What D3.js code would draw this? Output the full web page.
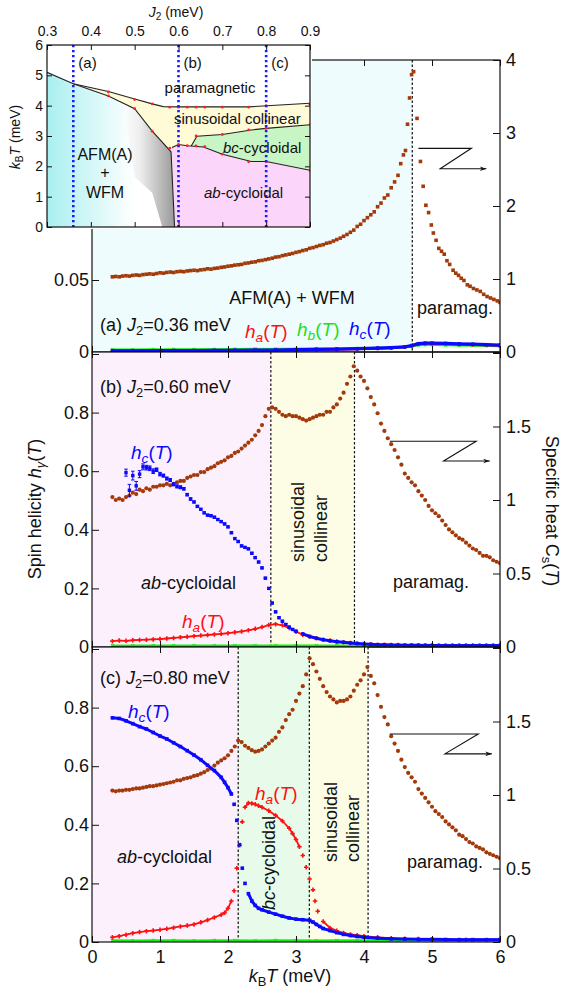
<!DOCTYPE html>
<html><head><meta charset="utf-8">
<script src="https://cdn.jsdelivr.net/npm/d3@7"></script>
<style>body{margin:0;background:#fff}</style>
</head><body><svg id="c" width="566" height="994"></svg>
<script>
// ---------------- DATA ----------------
const xTicks = [0,1,2,3,4,5,6];
// Panel (a) J2=0.36 : specific heat (right axis)
const csA_low = [1.030,1.035,1.030,1.040,1.045,1.040,1.050,1.055,1.050,1.060,1.065,1.070,1.065,1.075,1.085,
 1.080,1.090,1.095,1.090,1.100,1.105,1.100,1.110,1.115,1.120,1.115,1.125,1.130,1.140,1.135,1.145,1.150,1.160,1.165,1.175,
 1.180,1.190,1.195,1.200,1.215,1.220,1.230,1.235,1.250,1.255,1.265,1.275,1.285,1.300,1.305,1.320,1.330,1.340,1.350,1.365,
 1.375,1.390,1.400,1.420,1.430,1.445,1.460,1.470,1.490,1.500,1.520,1.540,1.560,1.585,1.610,1.640,1.670,1.720,1.750,1.800,
 1.840,1.880,1.920,1.990,2.040,2.110,2.150,2.250,2.330,2.420]; // T = 0.30 .. 4.50 step 0.05
const csA_hiT = [4.54,4.58,4.61,4.64,4.67,4.70,4.73,4.78,4.83,4.87,4.91,4.95,4.99,5.02,5.06,5.10,5.14,5.18,5.22,5.26,5.31,5.35,5.39,5.43,5.47,5.52,5.56,5.61,5.66,5.71,5.76,5.81,5.86,5.91,5.96,6.00];
const csA_hi  = [2.58,2.70,2.76,3.12,3.48,3.80,3.84,3.20,2.61,2.27,2.01,1.91,1.74,1.63,1.53,1.42,1.38,1.34,1.25,1.20,1.12,1.08,1.05,1.01,0.98,0.92,0.90,0.87,0.85,0.83,0.79,0.76,0.74,0.72,0.70,0.68];
const hA_T = [0.3,0.6,0.9,1.2,1.5,1.8,2.1,2.4,2.7,3.0,3.3,3.6,3.9,4.2,4.4,4.6,4.7,4.8,4.9,5.0,5.2,5.4,5.6,5.8,6.0];
const hcA = [0.0008,0.0008,0.0009,0.001,0.001,0.0011,0.0012,0.0013,0.0014,0.0016,0.0018,0.002,0.0023,0.0027,0.003,0.0036,0.0045,0.0058,0.0062,0.0062,0.006,0.0057,0.0054,0.0051,0.0048];
const haA = [0.0006,0.0006,0.0007,0.0008,0.0008,0.0009,0.001,0.0011,0.0012,0.0014,0.0016,0.0018,0.0021,0.0025,0.0028,0.0034,0.0042,0.0055,0.0058,0.0058,0.0056,0.0054,0.0051,0.0048,0.0046];
const hbA = [0.0016,0.0016,0.0017,0.0017,0.0018,0.0018,0.0019,0.002,0.002,0.0021,0.0022,0.0023,0.0025,0.0028,0.003,0.0034,0.004,0.0048,0.005,0.005,0.0049,0.0047,0.0045,0.0043,0.0042];

// Panel (b) J2=0.60
const csB = [1.02,1.00,1.01,1.00,1.02,1.03,1.05,1.04,1.07,1.06,1.08,1.07,1.09,1.09,1.10,
 1.10,1.11,1.10,1.11,1.12,1.13,1.13,1.15,1.16,1.17,1.17,1.19,1.19,1.21,1.22,1.23,1.25,1.26,1.27,1.29,
 1.30,1.32,1.33,1.35,1.37,1.39,1.41,1.44,1.47,1.51,1.57,1.62,1.63,1.62,1.60,1.58,1.57,1.58,1.57,1.57,
 1.56,1.55,1.54,1.55,1.56,1.57,1.58,1.58,1.60,1.60,1.63,1.65,1.69,1.73,1.79,1.84,1.91,1.88,1.84,1.81,
 1.76,1.70,1.65,1.59,1.52,1.47,1.42,1.38,1.34,1.29,1.24,1.18,1.15,1.12,1.10,1.06,1.03,1.00,0.96,0.93,
 0.91,0.89,0.86,0.83,0.80,0.78,0.76,0.74,0.73,0.71,0.69,0.67,0.66,0.64,0.62,0.62,0.61,0.59,0.58,0.57]; // T 0.30..6.00 step 0.05
const hcB_lo = [0.595,0.535,0.585,0.55,0.59,0.615,0.612,0.61,0.60,0.605,
 0.59,0.585,0.575,0.57,0.555,0.548,0.545,0.54,0.52,0.505,
 0.495,0.48,0.47,0.458,0.45,0.448,0.443,0.435,0.428,0.42,
 0.41,0.39,0.37,0.36,0.345,0.34,0.335,0.32,0.305,0.29,
 0.27,0.235,0.20,0.15,0.12,0.10,0.088,0.077,0.068,0.06,0.054]; // T 0.50..3.00 step 0.05
const hcB_err = [0.012,0.02,0.015,0.015,0.012,0.01,0.008,0.008,0.008,0.006,0.006,0.005,0.005,0.005,0.005,0.005,0.005,0.004,0.004,0.004];
const hcB_hi = [0.045,0.036,0.030,0.025,0.021,0.018,0.016,0.014,0.012,0.010,
 0.009,0.008,0.0075,0.007,0.0065,0.006,0.006,0.006,0.0055,0.0055,
 0.005,0.005,0.005,0.005,0.005,0.005,0.005,0.005,0.005,0.005]; // T 3.1..6.0 step 0.1
const haB = [0.020,0.022,0.021,0.023,0.024,0.025,0.026,0.027,0.029,0.031,
 0.033,0.035,0.037,0.039,0.041,0.043,0.045,0.047,0.050,0.053,
 0.057,0.062,0.068,0.075,0.078,0.074,0.065,0.052,0.042,0.035,
 0.030,0.025,0.022,0.019,0.016,0.014,0.012,0.010,0.009,0.008,
 0.008,0.007,0.007,0.006,0.006,0.006,0.006,0.005,0.005,0.005,
 0.005,0.005,0.005,0.005,0.005,0.005,0.005,0.005]; // T 0.3..6.0 step 0.1
const hbB = [0.004,0.004,0.0045,0.004,0.0045,0.004,0.0045,0.0045,0.004,0.0045,0.0045,0.004,0.0045,0.004,0.0045,0.004,0.0045,0.004,0.0045,0.004]; // T 0.3..6.0 step 0.3

// Panel (c) J2=0.80
const csC = [1.03,1.025,1.03,1.03,1.035,1.035,1.04,1.045,1.045,1.05,1.055,1.06,1.06,1.065,1.07,
 1.075,1.08,1.085,1.09,1.10,1.10,1.11,1.115,1.12,1.13,1.135,1.145,1.155,1.17,1.18,1.20,1.22,1.235,1.25,1.27,
 1.30,1.33,1.37,1.36,1.335,1.32,1.305,1.295,1.30,1.31,1.33,1.35,1.37,1.39,1.43,1.46,1.51,1.55,1.58,1.64,
 1.69,1.74,1.82,1.93,1.89,1.84,1.79,1.74,1.70,1.67,1.65,1.63,1.64,1.64,1.65,1.67,1.71,1.75,1.78,1.82,
 1.87,1.81,1.76,1.68,1.60,1.53,1.48,1.40,1.35,1.30,1.24,1.19,1.15,1.12,1.09,1.04,1.01,0.98,0.95,0.92,
 0.89,0.87,0.85,0.82,0.80,0.78,0.76,0.73,0.72,0.70,0.68,0.67,0.65,0.64,0.63,0.61,0.60,0.59,0.58,0.57]; // T 0.30..6.00 step 0.05
const hcC_T = [0.3,0.4,0.5,0.6,0.7,0.8,0.9,1.0,1.1,1.2,1.3,1.4,1.5,1.6,1.7,1.8,1.9,1.95,2.0,2.05,2.09,2.13,2.17,2.21,2.25,2.3,2.35,2.4,2.45,2.5,2.6,2.7,2.8,2.9,3.0,3.1,3.2,3.25,3.3,3.35,3.4,3.5,3.6,3.7,3.8,3.9,4.0,4.2,4.4,4.6,4.8,5.0,5.2,5.4,5.6,5.8,6.0];
const hcC = [0.765,0.763,0.755,0.745,0.735,0.727,0.715,0.703,0.693,0.68,0.667,0.653,0.638,0.622,0.603,0.585,0.562,0.545,0.527,0.505,0.47,0.415,0.332,0.252,0.20,0.165,0.14,0.125,0.115,0.11,0.102,0.095,0.088,0.082,0.078,0.076,0.074,0.068,0.06,0.053,0.046,0.039,0.032,0.026,0.022,0.019,0.016,0.013,0.011,0.010,0.009,0.009,0.0085,0.008,0.008,0.008,0.008];
const haC_T = [0.3,0.4,0.5,0.6,0.7,0.8,0.9,1.0,1.1,1.2,1.3,1.4,1.5,1.6,1.7,1.8,1.9,1.95,2.0,2.05,2.09,2.13,2.17,2.21,2.25,2.3,2.35,2.4,2.45,2.5,2.6,2.7,2.8,2.9,2.95,3.0,3.05,3.1,3.15,3.2,3.25,3.28,3.32,3.4,3.5,3.6,3.7,3.8,3.9,4.0,4.2,4.4,4.6,4.8,5.0,5.5,6.0];
const haC = [0.016,0.02,0.025,0.03,0.034,0.037,0.039,0.042,0.045,0.049,0.053,0.056,0.06,0.067,0.075,0.084,0.093,0.10,0.115,0.14,0.175,0.252,0.33,0.41,0.46,0.474,0.473,0.47,0.465,0.46,0.448,0.432,0.413,0.388,0.37,0.35,0.325,0.295,0.255,0.215,0.178,0.14,0.105,0.07,0.048,0.038,0.031,0.026,0.023,0.02,0.016,0.013,0.011,0.01,0.009,0.008,0.008];
const hbC = [0.005,0.0045,0.005,0.005,0.0045,0.005,0.005,0.0045,0.005,0.005,0.0045,0.005,0.005,0.0045,0.005,0.005,0.0045,0.005,0.005,0.005]; // T 0.3..6.0 step 0.3

// phase boundaries along T in each panel
const phaseA = [[0,4.71,'afm']];
const phaseB = [[0,2.63,'ab'],[2.63,3.86,'sin']];
const phaseC = [[0,2.15,'ab'],[2.15,3.196,'bc'],[3.196,4.06,'sin']];

// Inset phase diagram
const inXTicks = [0.3,0.4,0.5,0.6,0.7,0.8,0.9];
const inYTicks = [0,1,2,3,4,5,6];
const bParaJ = [0.30,0.36,0.44,0.50,0.54,0.565,0.60,0.76,0.90], bParaT = [5.10,4.72,4.47,4.22,4.06,3.97,3.96,3.96,4.08];
const bAfmJ  = [0.36,0.44,0.50,0.54,0.583,0.591], bAfmT = [4.72,4.32,3.90,3.16,2.48,0];
const bAbJ   = [0.585,0.60,0.62,0.657,0.70,0.766,0.80,0.90], bAbT = [2.62,2.72,2.68,2.64,2.40,2.16,2.16,1.87];
const bBcJ   = [0.629,0.642,0.70,0.766,0.80,0.90], bBcT = [2.67,2.99,3.05,3.20,3.25,3.37];
const greyEdgeJ = [0.474,0.50,0.54,0.563], greyEdgeT = [4.08,1.65,1.13,0];
const ptJ = [0.44,0.44,0.50,0.50,0.54,0.54,0.58,0.58,0.60,0.60,0.62,0.62,0.64,0.64,0.64,0.66,0.66,0.70,0.70,0.70,0.76,0.76,0.76,0.80,0.80,0.80,0.90,0.90,0.90];
const ptT = [4.45,4.32,4.20,3.90,4.06,3.16,3.95,2.60,3.95,2.72,3.95,2.68,3.95,3.00,2.67,3.95,2.65,3.95,3.05,2.40,3.95,3.20,2.15,4.00,3.25,2.15,4.05,3.37,1.87];
const selJ2 = [0.36,0.60,0.80], selLabels = ['(a)','(b)','(c)'];

// ---------------- DRAWING ----------------
const FONT = '"Liberation Sans", Arial, Helvetica, sans-serif';
const BROWN = '#a33a0b', BLUE = '#0a0aff', RED = '#ff1010', GREEN = '#10f010';
const bg = {afm:'#effcfd', ab:'#fdf0fd', sin:'#fdfde6', bc:'#e8fbea'};
const svg = d3.select('#c');
const defs = svg.append('defs');
const x = d3.scaleLinear([0,6],[92,500]);
const grid = (t0,dt,vals)=>vals.map((v,i)=>[+(t0+i*dt).toFixed(3),v]);
const zip = (ts,vs)=>ts.map((t,i)=>[t,vs[i]]);
const fmt = d => d===0 ? '0' : String(+d.toFixed(3));

function rich(g, segs, o){
  const size=o.size, t=g.append('text').attr('font-family',FONT).attr('font-size',size)
    .attr('fill',o.fill||'#111').attr('text-anchor',o.anchor||'start');
  if(o.rotate){ t.attr('transform',`translate(${o.x},${o.y}) rotate(${o.rotate})`).attr('x',0).attr('y',0.35*size); }
  else t.attr('x',o.x).attr('y',o.y+0.35*size);
  let shift=0;
  segs.forEach(s=>{
    const f=s[1]||'';
    const sp=t.append('tspan').text(s[0]);
    if(f.includes('i')) sp.attr('font-style','italic');
    const target=f.includes('s')? size*0.22:0;
    if(target!==shift){ sp.attr('dy',target-shift); shift=target; }
    if(f.includes('s')) sp.attr('font-size',size*0.72);
  });
  return t;
}

function marker(g, px, py, shape, color, s){
  if(shape==='square') g.append('rect').attr('x',px-s/2).attr('y',py-s/2).attr('width',s).attr('height',s).attr('fill',color);
  else if(shape==='circle') g.append('circle').attr('cx',px).attr('cy',py).attr('r',s/2).attr('fill',color);
  else if(shape==='plus') g.append('path').attr('d',`M${px-s/2},${py}H${px+s/2}M${px},${py-s/2}V${py+s/2}`).attr('stroke',color).attr('stroke-width',1.6);
  else if(shape==='x') g.append('path').attr('d',`M${px-s/2},${py-s/2}L${px+s/2},${py+s/2}M${px-s/2},${py+s/2}L${px+s/2},${py-s/2}`).attr('stroke',color).attr('stroke-width',1.4);
}

function series(g, pts, ys, o){
  const P = pts.map(d=>[x(d[0]), ys(d[1])]);
  if(o.line){
    const maxDy = o.maxDy || 8;
    for(let i=1;i<P.length;i++){
      const dy=Math.abs(P[i][1]-P[i-1][1]);
      if(dy<maxDy) g.append('line').attr('x1',P[i-1][0]).attr('y1',P[i-1][1]).attr('x2',P[i][0]).attr('y2',P[i][1])
        .attr('stroke',o.color).attr('stroke-width',o.lw||2.6);
    }
  }
  if(o.err){
    pts.forEach((d,i)=>{const e=o.err[i]!==undefined?o.err[i]:0.003;
      const y1=ys(d[1]-e), y2=ys(d[1]+e), px=x(d[0]);
      g.append('path').attr('d',`M${px},${y1}V${y2}M${px-1.8},${y1}H${px+1.8}M${px-1.8},${y2}H${px+1.8}`).attr('stroke',o.color).attr('stroke-width',1);
    });
  }
  P.forEach(p=>marker(g,p[0],p[1],o.shape,o.color,o.size));
}

const panels = [
 {id:'a', top:60, bot:352, yL:d3.scaleLinear([0,0.2],[352,64]), yR:d3.scaleLinear([0,4],[352,60]),
  lt:[0,0.05,0.1,0.15,0.2], ltLabel:[0,0.05], rt:[0,1,2,3,4], phases:phaseA,
  series:[
   {pts:grid(0.30,0.05,csA_low).concat(zip(csA_hiT,csA_hi)), ax:'R', shape:'square', color:BROWN, size:3.6},
   {pts:zip(hA_T,hbA), ax:'L', shape:'x', color:GREEN, size:3, line:true, lw:2.5, maxDy:100},
   {pts:zip(hA_T,haA), ax:'L', shape:'plus', color:RED, size:4, line:true, lw:2.5, maxDy:100},
   {pts:zip(hA_T,hcA), ax:'L', shape:'square', color:BLUE, size:3.4, line:true, lw:3.2, maxDy:100}
  ]},
 {id:'b', top:352, bot:647, yL:d3.scaleLinear([0,1],[647,354]), yR:d3.scaleLinear([0,2],[647,353]),
  lt:[0,0.2,0.4,0.6,0.8,1], ltLabel:[0,0.2,0.4,0.6,0.8], rt:[0,0.5,1,1.5,2], phases:phaseB,
  series:[
   {pts:grid(0.30,0.05,csB), ax:'R', shape:'circle', color:BROWN, size:4.2},
   {pts:grid(0.3,0.3,hbB), ax:'L', shape:'x', color:GREEN, size:3, line:true, lw:2.5, maxDy:100},
   {pts:grid(0.3,0.1,haB), ax:'L', shape:'plus', color:RED, size:4.5, line:true, lw:1.8},
   {pts:grid(0.50,0.05,hcB_lo), ax:'L', shape:'square', color:BLUE, size:3.4, err:hcB_err},
   {pts:grid(3.1,0.1,hcB_hi), ax:'L', shape:'square', color:BLUE, size:3.4, line:true, lw:3, maxDy:100}
  ]},
 {id:'c', top:647, bot:942, yL:d3.scaleLinear([0,1],[942,649]), yR:d3.scaleLinear([0,2],[942,648]),
  lt:[0,0.2,0.4,0.6,0.8,1], ltLabel:[0,0.2,0.4,0.6,0.8], rt:[0,0.5,1,1.5,2], phases:phaseC,
  series:[
   {pts:grid(0.30,0.05,csC), ax:'R', shape:'circle', color:BROWN, size:4.2},
   {pts:grid(0.3,0.3,hbC), ax:'L', shape:'x', color:GREEN, size:3, line:true, lw:2.5, maxDy:100},
   {pts:zip(haC_T,haC), ax:'L', shape:'plus', color:RED, size:4.5, line:true, lw:1.8},
   {pts:zip(hcC_T,hcC), ax:'L', shape:'square', color:BLUE, size:3.6, line:true, lw:3}
  ]}
];

const main = svg.append('g');
panels.forEach(p=>{
  const g = main.append('g');
  defs.append('clipPath').attr('id','clip'+p.id).append('rect').attr('x',92).attr('y',p.top).attr('width',408).attr('height',p.bot-p.top);
  p.phases.forEach(ph=>g.append('rect').attr('x',x(ph[0])).attr('y',p.top).attr('width',x(ph[1])-x(ph[0])).attr('height',p.bot-p.top).attr('fill',bg[ph[2]]));
  p.phases.forEach(ph=>g.append('line').attr('x1',x(ph[1])).attr('x2',x(ph[1])).attr('y1',p.top).attr('y2',p.bot)
     .attr('stroke','#111').attr('stroke-width',1.2).attr('stroke-dasharray','2.5,2'));
  const dg = g.append('g').attr('clip-path',`url(#clip${p.id})`);
  p.series.forEach(s=>series(dg, s.pts, s.ax==='R'?p.yR:p.yL, s));
  const aL = g.append('g').attr('transform','translate(92,0)')
    .call(d3.axisLeft(p.yL).tickValues(p.lt).tickSize(-7).tickPadding(3).tickFormat(d=>p.ltLabel.includes(d)?fmt(d):''));
  const aR = g.append('g').attr('transform','translate(500,0)')
    .call(d3.axisRight(p.yR).tickValues(p.rt).tickSize(-7).tickPadding(6).tickFormat(d=>(p.id!=='a'&&d===2)?'':fmt(d)));
  const aT = g.append('g').attr('transform',`translate(0,${p.top})`).call(d3.axisTop(x).tickValues(xTicks).tickSize(-6).tickFormat(''));
  const aB = g.append('g').attr('transform',`translate(0,${p.bot})`).call(d3.axisBottom(x).tickValues(xTicks).tickSize(-6).tickPadding(8).tickFormat(p.id==='c'?fmt:()=>''));
  [aL,aR,aT,aB].forEach(a=>{a.select('.domain').remove(); a.attr('font-family',FONT).attr('font-size',18);
     a.selectAll('line').attr('stroke','#111'); a.selectAll('text').attr('fill','#111');
     a.selectAll('text').filter(function(){return this.textContent==='';}).remove();});
  g.append('rect').attr('x',92).attr('y',p.top).attr('width',408).attr('height',p.bot-p.top).attr('fill','none').attr('stroke','#111').attr('stroke-width',1.2);
});

// Z-arrows (in T / Cs units of each panel)
const arrowsCs = [[[4.80,2.79],[5.58,2.79],[5.12,2.51],[5.80,2.51]],[[4.38,1.40],[5.65,1.40],[5.17,1.265],[5.85,1.265]],[[4.38,1.415],[5.68,1.415],[5.19,1.28],[5.88,1.28]]];
defs.append('marker').attr('id','ah').attr('viewBox','0 0 10 10').attr('refX',10).attr('refY',5).attr('markerWidth',10).attr('markerHeight',6).attr('orient','auto')
  .append('path').attr('d','M0,1.5L10,5L0,8.5L3,5Z').attr('fill','#111');
arrowsCs.forEach((a,i)=>{
  const p=panels[i];
  main.append('path').attr('d',d3.line()(a.map(d=>[x(d[0]),p.yR(d[1])]))).attr('fill','none').attr('stroke','#111').attr('stroke-width',1.1).attr('marker-end','url(#ah)');
});

// texts in main panels
const T18=18;
rich(main,[['AFM(A) + WFM']],{x:292,y:298,size:T18,anchor:'middle'});
rich(main,[['paramag.']],{x:417,y:308,size:T18});
rich(main,[['(a) '],['J','i'],['2','s'],['=0.36 meV']],{x:100,y:325,size:T18});
rich(main,[['h','i'],['a','si'],['('],['T','i'],[')']],{x:245,y:331,size:19,fill:RED});
rich(main,[['h','i'],['b','si'],['('],['T','i'],[')']],{x:297,y:329,size:19,fill:'#22dd22'});
rich(main,[['h','i'],['c','si'],['('],['T','i'],[')']],{x:349,y:328,size:19,fill:BLUE});

rich(main,[['(b) '],['J','i'],['2','s'],['=0.60 meV']],{x:100,y:387,size:T18});
rich(main,[['h','i'],['c','si'],['('],['T','i'],[')']],{x:131,y:452,size:19,fill:BLUE});
rich(main,[['ab','i'],['-cycloidal']],{x:141,y:583,size:T18});
rich(main,[['h','i'],['a','si'],['('],['T','i'],[')']],{x:182,y:621,size:19,fill:RED});
rich(main,[['sinusoidal']],{x:298,y:562,size:T18,rotate:-90});
rich(main,[['collinear']],{x:321,y:562,size:T18,rotate:-90});
rich(main,[['paramag.']],{x:393,y:582,size:T18});

rich(main,[['(c) '],['J','i'],['2','s'],['=0.80 meV']],{x:100,y:678,size:T18});
rich(main,[['h','i'],['c','si'],['('],['T','i'],[')']],{x:128,y:711,size:19,fill:BLUE});
rich(main,[['h','i'],['a','si'],['('],['T','i'],[')']],{x:255,y:793,size:19,fill:RED});
rich(main,[['ab','i'],['-cycloidal']],{x:117,y:857,size:T18});
rich(main,[['bc','i'],['-cycloidal']],{x:269,y:863,size:T18,rotate:-90,anchor:'middle'});
rich(main,[['sinusoidal']],{x:331,y:862,size:T18,rotate:-90});
rich(main,[['collinear']],{x:353,y:862,size:T18,rotate:-90});
rich(main,[['paramag.']],{x:407,y:862,size:T18});

// axis titles
rich(main,[['Spin helicity '],['h','i'],['γ','si'],['('],['T','i'],[')']],{x:35,y:509,size:T18,rotate:-90,anchor:'middle'});
rich(main,[['Specific heat C'],['s','s'],['('],['T','i'],[')']],{x:552,y:511,size:T18,rotate:90,anchor:'middle'});
rich(main,[['k','i'],['B','s'],['T','i'],[' (meV)']],{x:290,y:976,size:T18,anchor:'middle'});

// ---------------- INSET ----------------
const ix = d3.scaleLinear([0.3,0.9],[47,310]);
const iy = d3.scaleLinear([0,6],[227,45]);
const ins = svg.append('g');
ins.append('rect').attr('x',0).attr('y',0).attr('width',312).attr('height',229).attr('fill','#fff');
defs.append('clipPath').attr('id','iclip').append('rect').attr('x',47).attr('y',45).attr('width',263).attr('height',182);
const cg = defs.append('linearGradient').attr('id','cyanG').attr('gradientUnits','userSpaceOnUse').attr('x1',ix(0.3)).attr('x2',ix(0.5)).attr('y1',0).attr('y2',0);
cg.append('stop').attr('offset',0).attr('stop-color','#a9eff0'); cg.append('stop').attr('offset',1).attr('stop-color','#ffffff');
const gg = defs.append('linearGradient').attr('id','greyG').attr('gradientUnits','userSpaceOnUse').attr('x1',ix(0.47)).attr('x2',ix(0.59)).attr('y1',0).attr('y2',0);
gg.append('stop').attr('offset',0).attr('stop-color','#ffffff'); gg.append('stop').attr('offset',0.35).attr('stop-color','#eeeeee'); gg.append('stop').attr('offset',1).attr('stop-color','#9a9a9a');
const P = (js,ts)=>js.map((j,i)=>[ix(j),iy(ts[i])]);
const poly = pts=>'M'+pts.map(p=>p.join(',')).join('L')+'Z';
const ic = ins.append('g').attr('clip-path','url(#iclip)');
const para = P(bParaJ,bParaT), afm = P(bAfmJ,bAfmT), ab = P(bAbJ,bAbT), bc = P(bBcJ,bBcT);
ic.append('path').attr('d',poly(para.slice(1).concat([[ix(0.9),iy(0)],[ix(0.591),iy(0)]]).concat(afm.slice().reverse()))).attr('fill','#fffbd6');
ic.append('path').attr('d',poly([[ix(0.3),iy(0)],para[0]].concat(afm))).attr('fill','url(#cyanG)');
ic.append('path').attr('d',poly([[ix(greyEdgeJ[0]),iy(greyEdgeT[0])]].concat(afm.slice(2)).concat(P(greyEdgeJ,greyEdgeT).slice(1).reverse()))).attr('fill','url(#greyG)');
ic.append('path').attr('d',poly([[ix(0.591),iy(0)]].concat(ab).concat([[ix(0.9),iy(0)]]))).attr('fill','#fcd5fb');
ic.append('path').attr('d',poly(bc.concat([ab[ab.length-1]]).concat(ab.slice(3,ab.length-1).reverse()))).attr('fill','#c7f5c3');
[para,afm,ab,bc].forEach(l=>ic.append('path').attr('d',d3.line()(l)).attr('fill','none').attr('stroke','#222').attr('stroke-width',1.1));
ptJ.forEach((j,i)=>ic.append('circle').attr('cx',ix(j)).attr('cy',iy(ptT[i])).attr('r',1.4).attr('fill','#ff2020'));
selJ2.forEach((j,i)=>{
  ic.append('line').attr('x1',ix(j)).attr('x2',ix(j)).attr('y1',45).attr('y2',227).attr('stroke','#1c1cff').attr('stroke-width',2.6).attr('stroke-dasharray','2.2,2.8');
  rich(ins,[[selLabels[i]]],{x:ix(j)+5,y:63,size:15});
});
rich(ic,[['paramagnetic']],{x:210,y:88,size:15,anchor:'middle'});
rich(ic,[['sinusoidal collinear']],{x:174,y:119,size:15});
rich(ic,[['bc','i'],['-cycloidal']],{x:223,y:148,size:15});
rich(ic,[['AFM(A)']],{x:105,y:154,size:16,anchor:'middle'});
rich(ic,[['+']],{x:105,y:172,size:16,anchor:'middle'});
rich(ic,[['WFM']],{x:105,y:192,size:16,anchor:'middle'});
rich(ic,[['ab','i'],['-cycloidal']],{x:204,y:193,size:15});
const iT = ins.append('g').attr('transform','translate(0,45)').call(d3.axisTop(ix).tickValues(inXTicks).tickSize(-5).tickPadding(9).tickFormat(d=>d.toFixed(1)));
const iB = ins.append('g').attr('transform','translate(0,227)').call(d3.axisBottom(ix).tickValues(inXTicks).tickSize(-5).tickFormat(''));
const iL = ins.append('g').attr('transform','translate(47,0)').call(d3.axisLeft(iy).tickValues(inYTicks).tickSize(-5).tickPadding(4).tickFormat(d3.format('d')));
const iR = ins.append('g').attr('transform','translate(310,0)').call(d3.axisRight(iy).tickValues(inYTicks).tickSize(-5).tickFormat(''));
[iT,iB,iL,iR].forEach(a=>{a.select('.domain').remove(); a.attr('font-family',FONT).attr('font-size',14);
  a.selectAll('line').attr('stroke','#111'); a.selectAll('text').attr('fill','#111');
  a.selectAll('text').filter(function(){return this.textContent==='';}).remove();});
ins.append('rect').attr('x',47).attr('y',45).attr('width',263).attr('height',182).attr('fill','none').attr('stroke','#111').attr('stroke-width',1.2);
rich(ins,[['J','i'],['2','s'],[' (meV)']],{x:176,y:12,size:14,anchor:'middle'});
rich(ins,[['k','i'],['B','s'],['T','i'],[' (meV)']],{x:15,y:137,size:14,anchor:'middle',rotate:-90});
</script></body></html>
